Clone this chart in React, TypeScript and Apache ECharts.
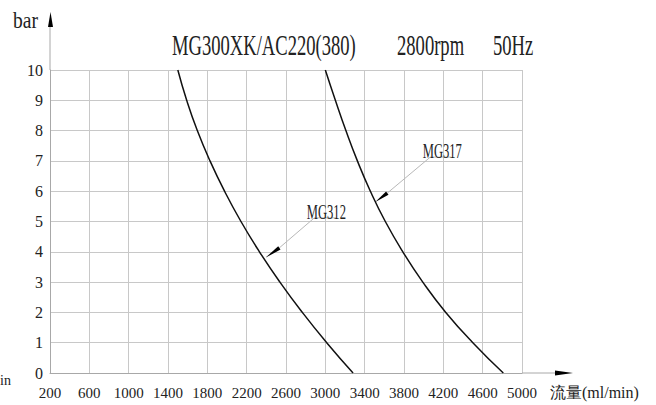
import React, { useEffect, useRef } from 'react';
import * as echarts from 'echarts';

// ---- data ----
const flowTicks = [200, 600, 1000, 1400, 1800, 2200, 2600, 3000, 3400, 3800, 4200, 4600, 5000];
const pressureTicks = [0, 1, 2, 3, 4, 5, 6, 7, 8, 9, 10];
const pressure = [10, 9, 8, 7, 6, 5, 4, 3, 2, 1, 0];
const mg312Flow = [1500, 1590, 1698, 1827, 1975, 2142, 2330, 2538, 2766, 3014, 3282];
const mg317Flow = [3000, 3102, 3209, 3326, 3458, 3610, 3788, 3991, 4225, 4500, 4810];
const titleParts = ['MG300XK/AC220(380)', '2800rpm', '50Hz'];
const seriesNames = ['MG312', 'MG317'];
const annotationAt = [
  [2390, 3.8],
  [3508, 5.64],
];

const FONT = 'Liberation Serif, DejaVu Serif, serif';
const GL = 50, GT = 70, GR = 522, GB = 373;
const W = 656, H = 405;
const GRID = '#c8c8c8';
const AXIS = '#a8a8a8';
const INK = '#222';

export default function App() {
  const ref = useRef<HTMLDivElement>(null);
  useEffect(() => {
    const chart = echarts.init(ref.current!, null, { renderer: 'svg' });
    const mk = (flows: number[]) => flows.map((f, i) => [f, pressure[i]]);
    chart.setOption({
      animation: false,
      backgroundColor: '#fff',
      grid: { left: GL, top: GT, right: W - GR, bottom: H - GB, containLabel: false },
      xAxis: {
        type: 'value',
        min: flowTicks[0],
        max: flowTicks[flowTicks.length - 1],
        interval: flowTicks[1] - flowTicks[0],
        axisLine: { show: true, lineStyle: { color: AXIS, width: 1 } },
        axisTick: { show: false },
        splitLine: { show: true, lineStyle: { color: GRID, width: 1 } },
        axisLabel: {
          fontFamily: FONT, fontSize: 15, color: INK, margin: 12, showMinLabel: true, showMaxLabel: true,
          formatter: (v: number) => String(v),
        },
      },
      yAxis: {
        type: 'value',
        min: pressureTicks[0],
        max: pressureTicks[pressureTicks.length - 1],
        interval: pressureTicks[1] - pressureTicks[0],
        axisLine: { show: true, lineStyle: { color: AXIS, width: 1 } },
        axisTick: { show: false },
        splitLine: { show: true, lineStyle: { color: GRID, width: 1 } },
        axisLabel: {
          fontFamily: FONT, fontSize: 16, color: INK, margin: 7, showMinLabel: true, showMaxLabel: true,
          formatter: (v: number) => String(v),
        },
      },
      series: [mg312Flow, mg317Flow].map((f, i) => ({
        name: seriesNames[i],
        type: 'line',
        data: mk(f),
        smooth: 0.5,
        showSymbol: false,
        symbol: 'none',
        lineStyle: { color: '#111', width: 1.5 },
        z: 5,
      })),
    });

    const px = (v: number[]) => chart.convertToPixel({ seriesIndex: 0 }, v) as number[];
    const els: any[] = [];
    const txt = (text: string, x: number, y: number, size: number, scaleX = 1, align = 'left') => ({
      type: 'text', x, y, scaleX, z: 10,
      style: { text, fontFamily: FONT, fontSize: size, fill: INK, align, verticalAlign: 'middle', textAlign: align, textVerticalAlign: 'middle' },
    });
    // title
    els.push(txt(titleParts[0], 172, 45, 30, 0.62));
    els.push(txt(titleParts[1], 397, 45, 30, 0.62));
    els.push(txt(titleParts[2], 493, 45, 30, 0.62));
    // axis titles
    els.push(txt('bar', 13, 20.5, 23, 0.85));
    els.push(txt('流量(ml/min)', 550, 392, 16));
    els.push(txt('in', 0, 380, 14));
    // axis extensions with arrows
    els.push({ type: 'line', z: 4, shape: { x1: GL, y1: GT, x2: GL, y2: 24 }, style: { stroke: AXIS, lineWidth: 1 } });
    els.push({ type: 'polygon', z: 6, shape: { points: [[GL + 0.5, 12], [GL - 2, 27], [GL + 3, 27]] }, style: { fill: '#000' } });
    els.push({ type: 'line', z: 4, shape: { x1: GR, y1: GB, x2: 558, y2: GB }, style: { stroke: AXIS, lineWidth: 1 } });
    els.push({ type: 'polygon', z: 6, shape: { points: [[573, GB], [555, GB - 2.5], [555, GB + 2.5]] }, style: { fill: '#000' } });

    // annotations
    const geo = [
      { back: [14, -10], knee: [49, -40], end: [71, -40], label: [61, -46] },
      { back: [12, -9], knee: [55, -45], end: [76, -45], label: [67, -51] },
    ];
    annotationAt.forEach((a, i) => {
      const [tx, ty] = px(a);
      const g = geo[i];
      const bx = tx + g.back[0], by = ty + g.back[1];
      const len = Math.hypot(g.back[0], g.back[1]);
      const nx = -g.back[1] / len * 2, ny = g.back[0] / len * 2;
      els.push({ type: 'polygon', z: 8, shape: { points: [[tx, ty], [bx + nx, by + ny], [bx - nx, by - ny]] }, style: { fill: '#000' } });
      els.push({ type: 'polyline', z: 7, shape: { points: [[bx, by], [tx + g.knee[0], ty + g.knee[1]], [tx + g.end[0], ty + g.end[1]]] }, style: { stroke: '#b8b8b8', lineWidth: 1, fill: 'none' } });
      els.push(txt(seriesNames[i], tx + g.label[0], ty + g.label[1], 21, 0.6, 'center'));
    });

    chart.setOption({ graphic: { elements: els } });
    return () => chart.dispose();
  }, []);
  return <div ref={ref} style={{ position: 'absolute', left: 0, top: 0, width: W, height: H, background: '#fff' }} />;
}
